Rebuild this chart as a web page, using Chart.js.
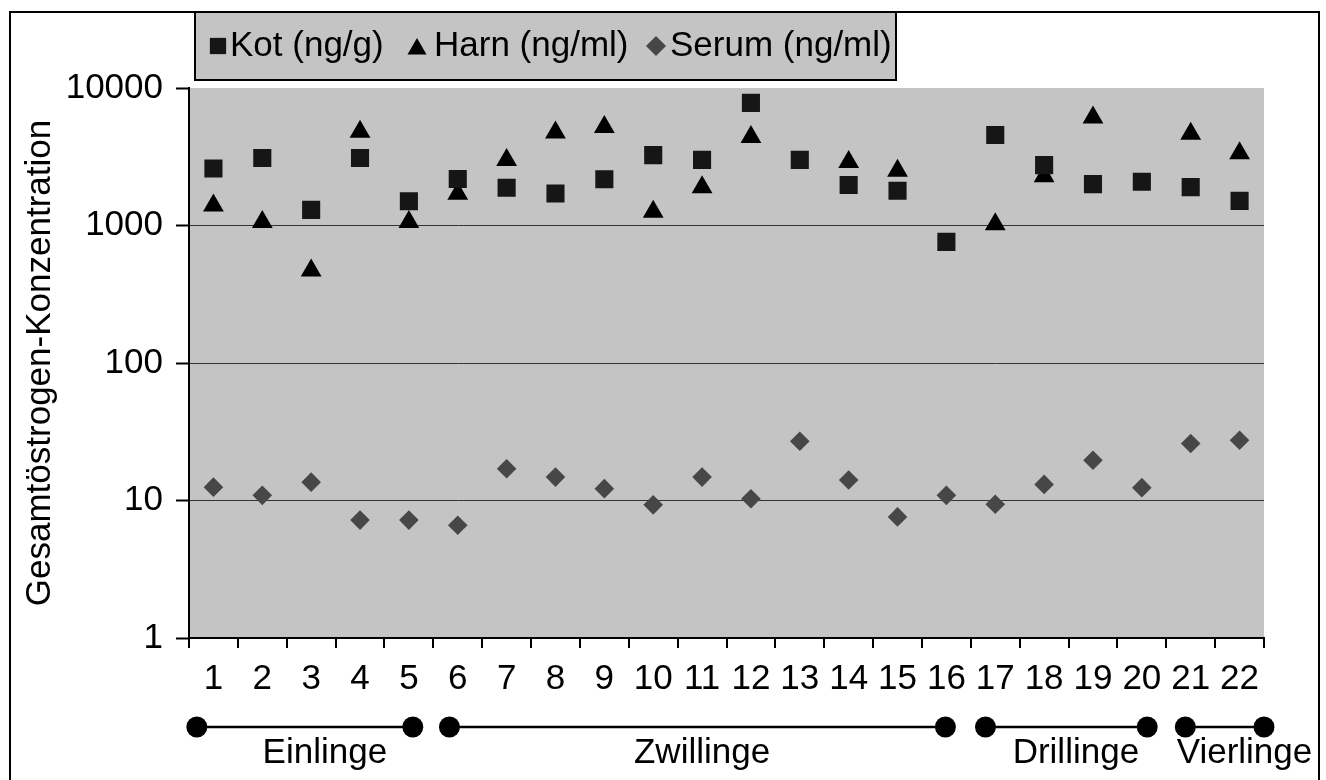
<!DOCTYPE html>
<html>
<head>
<meta charset="utf-8">
<title>Gesamtöstrogen-Konzentration</title>
<script src="https://cdn.jsdelivr.net/npm/chart.js@4.4.1/dist/chart.umd.min.js"></script>
<style>
  html, body { margin: 0; padding: 0; background: #ffffff; }
  #wrap { width: 1326px; height: 780px; }
</style>
</head>
<body>
<div id="wrap"><canvas id="c" width="1326" height="780"></canvas></div>
<script>
// Animals 1-22
const categories = ['1', '2', '3', '4', '5', '6', '7', '8', '9', '10', '11',
                    '12', '13', '14', '15', '16', '17', '18', '19', '20', '21', '22'];

// Faeces (ng/g)
const kot = [2600, 3100, 1300, 3100, 1500, 2180, 1880, 1710, 2170, 3250, 3000,
             7800, 3000, 1970, 1790, 760, 4550, 2750, 2000, 2080, 1900, 1510];

// Urine (ng/ml)
const harn = [1400, 1060, 470, 4800, 1060, 1700, 3000, 4750, 5200, 1260, 1900,
              4400, null, 2900, 2500, null, 1020, 2280, 6100, null, 4650, 3350];

// Serum (ng/ml)
const serum = [12.5, 10.9, 13.6, 7.2, 7.2, 6.6, 17.0, 14.8, 12.2, 9.3, 14.8,
               10.3, 27.0, 14.1, 7.6, 10.9, 9.4, 13.1, 19.6, 12.4, 26.0, 27.4];

const seriesNames = ['Kot (ng/g)', 'Harn (ng/ml)', 'Serum (ng/ml)'];
const yTicks = [1, 10, 100, 1000, 10000];
const yTitle = 'Gesamtöstrogen-Konzentration';

// Litter groups: first and last animal of each group
const groupNames = ['Einlinge', 'Zwillinge', 'Drillinge', 'Vierlinge'];
const groupFirst = [1, 6, 17, 21];
const groupLast = [5, 16, 20, 22];

const FONT_FAMILY = "'Liberation Sans', Arial, sans-serif";
const FONT = { family: FONT_FAMILY, size: 35, lineHeight: 1.2 };
const PLOT_BG = '#c4c4c4';

const markerStyles = [
  { pointStyle: 'rect', radius: 12.8, fill: '#161616' },
  { pointStyle: 'triangle', radius: 12, fill: '#000000' },
  { pointStyle: 'rectRot', radius: 9.8, fill: '#474747' }
];

// Frame, plot background, legend box and litter-group brackets
const decorations = {
  id: 'decorations',
  beforeDraw(chart) {
    const { ctx, chartArea } = chart;
    ctx.save();
    ctx.fillStyle = PLOT_BG;
    ctx.fillRect(chartArea.left, chartArea.top,
                 chartArea.right - chartArea.left, chartArea.bottom - chartArea.top);
    ctx.restore();
  },
  afterDraw(chart) {
    const { ctx } = chart;
    const x = chart.scales.x;

    ctx.save();
    // outer frame (runs off the bottom edge)
    ctx.strokeStyle = '#000';
    ctx.lineWidth = 2;
    ctx.strokeRect(10, 12, 1309, 800);

    // legend box
    const box = { l: 195, t: 12, r: 896, b: 80 };
    ctx.fillStyle = PLOT_BG;
    ctx.fillRect(box.l, box.t, box.r - box.l, box.b - box.t);
    ctx.strokeRect(box.l, box.t, box.r - box.l, box.b - box.t);

    const markerX = [218, 417, 656];
    const textX = [230, 434, 670];
    const legendRadius = [11.5, 11, 10];
    const cy = 46;
    ctx.font = `${FONT.size}px ${FONT_FAMILY}`;
    ctx.textBaseline = 'middle';
    ctx.textAlign = 'left';
    seriesNames.forEach((name, i) => {
      const m = markerStyles[i];
      ctx.fillStyle = m.fill;
      ctx.strokeStyle = m.fill;
      Chart.helpers.drawPoint(ctx, { pointStyle: m.pointStyle, radius: legendRadius[i], rotation: 0, borderWidth: 0 },
                              markerX[i], i === 1 ? cy + 3 : cy);
      ctx.fillStyle = '#000';
      ctx.fillText(name, textX[i], cy);
    });

    // group brackets below the category axis
    const pad = [[-0.34, 0.08], [-0.17, -0.02], [-0.2, 0.11], [-0.11, 0.5]];
    const labelShift = [0.28, 0.0, 0.15, 0.6];
    const lineY = 727;
    ctx.strokeStyle = '#000';
    ctx.fillStyle = '#000';
    ctx.lineWidth = 2.5;
    groupNames.forEach((name, i) => {
      const a = x.getPixelForValue(groupFirst[i] - 1 + pad[i][0]);
      const b = x.getPixelForValue(groupLast[i] - 1 + pad[i][1]);
      ctx.beginPath();
      ctx.moveTo(a, lineY);
      ctx.lineTo(b, lineY);
      ctx.stroke();
      [a, b].forEach(px => {
        ctx.beginPath();
        ctx.arc(px, lineY, 10.5, 0, Math.PI * 2);
        ctx.fill();
      });
      const mid = x.getPixelForValue((groupFirst[i] + groupLast[i]) / 2 - 1 + labelShift[i]);
      ctx.textAlign = 'center';
      ctx.textBaseline = 'middle';
      ctx.fillText(name, mid, 753);
    });
    ctx.restore();
  }
};

const datasets = [kot, harn, serum].map((values, i) => ({
  label: seriesNames[i],
  data: values,
  showLine: false,
  pointStyle: markerStyles[i].pointStyle,
  pointRadius: markerStyles[i].radius,
  pointHoverRadius: markerStyles[i].radius,
  pointBackgroundColor: markerStyles[i].fill,
  pointBorderColor: markerStyles[i].fill,
  pointBorderWidth: 0
}));

new Chart(document.getElementById('c'), {
  type: 'line',
  data: { labels: categories, datasets },
  options: {
    responsive: false,
    animation: false,
    devicePixelRatio: 1,
    layout: { padding: { top: 88, right: 62, bottom: 0, left: 0 } },
    plugins: { legend: { display: false }, tooltip: { enabled: false } },
    scales: {
      x: {
        type: 'category',
        offset: true,
        grid: { offset: true, drawOnChartArea: false, tickLength: 10, color: '#000', lineWidth: 2 },
        border: { color: '#000', width: 2 },
        ticks: { font: FONT, color: '#000', padding: 10, maxRotation: 0, autoSkip: false },
        afterFit(scale) { scale.height = 142; }
      },
      y: {
        type: 'logarithmic',
        min: 1,
        max: 10000,
        afterBuildTicks(scale) { scale.ticks = yTicks.map(v => ({ value: v })); },
        ticks: { font: FONT, color: '#000', padding: 13, callback: v => String(v) },
        grid: {
          color: c => (c.tick && c.tick.value === 10000) ? 'rgba(0,0,0,0)' : '#333333',
          lineWidth: 1,
          tickColor: '#000',
          tickWidth: 2,
          tickLength: 13
        },
        border: { color: '#000', width: 2 },
        title: { display: true, text: yTitle, font: FONT, color: '#000', padding: { top: 19, bottom: 0 } },
        afterFit(scale) { scale.width = 189; }
      }
    }
  },
  plugins: [decorations]
});
</script>
</body>
</html>
